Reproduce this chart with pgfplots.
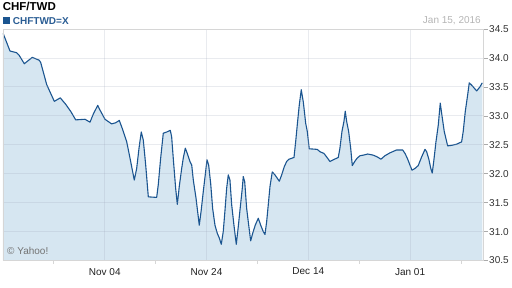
\documentclass[border=0pt]{standalone}
\usepackage{pgfplots}
\pgfplotsset{compat=1.18}
\usepackage{pgfplotstable}
\usepackage{fontspec}
\setmainfont{Liberation Sans}
\definecolor{lineblue}{HTML}{1B5590}
\definecolor{fillblue}{HTML}{D6E6F1}
\definecolor{gridc}{HTML}{9BA3B7}
\definecolor{framec}{HTML}{D6D6D6}
\definecolor{legblue}{HTML}{2A5D94}
\definecolor{datec}{HTML}{B4B4B4}
\pgfplotstableread{
d v
0.00 34.43
0.96 34.12
1.88 34.09
2.20 34.05
2.93 33.90
4.03 34.01
4.99 33.96
5.19 33.92
6.01 33.54
7.06 33.25
7.88 33.31
8.62 33.20
9.35 33.07
10.00 32.93
11.28 32.94
11.97 32.89
12.42 33.03
13.03 33.18
13.34 33.10
14.03 32.94
14.95 32.86
15.50 32.88
16.00 32.92
16.41 32.78
17.02 32.55
17.47 32.27
18.06 31.89
18.39 32.09
18.71 32.44
19.02 32.72
19.30 32.58
19.63 32.15
19.99 31.60
21.14 31.59
21.36 31.81
21.69 32.27
22.05 32.70
22.52 32.72
23.01 32.75
23.20 32.64
23.42 32.27
23.75 31.75
23.98 31.47
24.25 31.78
24.58 32.09
24.80 32.27
25.08 32.44
25.35 32.35
25.72 32.21
25.96 32.15
26.18 31.89
26.55 31.58
27.00 31.11
27.24 31.34
27.55 31.69
27.88 32.04
28.06 32.24
28.29 32.15
28.57 31.83
28.84 31.40
29.16 31.11
29.48 30.97
29.75 30.89
30.03 30.78
30.30 31.00
30.54 31.37
30.77 31.75
30.99 31.98
31.22 31.89
31.46 31.46
31.77 31.11
32.09 30.78
32.37 31.09
32.60 31.37
32.92 31.75
33.05 31.95
33.25 31.86
33.52 31.40
33.80 31.11
34.07 30.84
34.35 30.97
34.70 31.11
35.12 31.23
35.45 31.11
35.80 31.00
36.04 30.95
36.27 31.17
36.49 31.46
36.73 31.78
37.04 32.03
37.41 31.98
37.79 31.91
38.01 31.87
38.34 31.98
38.69 32.12
39.02 32.21
39.34 32.25
40.03 32.28
40.26 32.55
40.48 32.84
40.76 33.19
41.03 33.45
41.31 33.24
41.64 32.87
41.86 32.73
42.13 32.43
43.23 32.42
43.60 32.38
44.15 32.35
44.52 32.29
44.98 32.21
45.43 32.24
46.12 32.28
46.35 32.44
46.63 32.73
46.90 32.90
47.08 33.08
47.28 32.90
47.55 32.73
47.83 32.44
48.05 32.14
48.38 32.21
48.73 32.27
49.11 32.31
49.56 32.32
50.17 32.34
50.94 32.32
51.49 32.29
51.99 32.25
52.54 32.31
53.23 32.36
54.15 32.41
54.98 32.41
55.30 32.35
55.61 32.27
55.98 32.15
56.26 32.06
56.67 32.09
57.12 32.14
57.59 32.29
58.05 32.42
58.28 32.38
58.60 32.24
58.83 32.10
59.05 32.01
59.28 32.24
59.56 32.55
59.88 32.84
60.15 33.22
60.38 33.01
60.70 32.73
61.17 32.48
61.72 32.49
62.41 32.51
63.09 32.55
63.31 32.73
63.59 33.07
63.92 33.36
64.14 33.57
64.47 33.53
65.16 33.43
65.61 33.50
65.93 33.57
}\datatable
\begin{document}
\begin{tikzpicture}
\path[use as bounding box] (0pt,0pt) rectangle (512pt,288pt);
\begin{axis}[
  at={(3pt,27.5pt)}, anchor=south west,
  scale only axis, width=480.5pt, height=231.5pt,
  xmin=0, xmax=66.1, ymin=30.5, ymax=34.5,
  axis on top,
  axis line style={framec, line width=0.8pt},
  xtick={14,28,42,56},
  xticklabels={Nov 04,Nov 24,Dec 14,Jan 01},
  minor xtick={7,21,35,49,63},
  ytick={30.5,31,31.5,32,32.5,33,33.5,34,34.5},
  yticklabel pos=right,
  ytick pos=right,
  xtick pos=bottom,
  tick align=outside,
  major tick length=4pt,
  minor tick length=3.5pt,
  major x tick style={draw=none},
  minor x tick style={draw=framec, line width=0.8pt},
  major y tick style={draw=framec!80!black, line width=0.6pt},
  grid=major,
  major grid style={draw=gridc, opacity=0.22, line width=0.8pt},
  /pgf/number format/assume math mode=true,
  yticklabel style={/pgf/number format/.cd, fixed, fixed zerofill, precision=1, /tikz/.cd, font=\fontsize{10}{12}\selectfont, text=black!80, inner sep=1.5pt},
  xticklabel style={font=\fontsize{10}{12}\selectfont, text=black!87},
]
\addplot[fill=fillblue, draw=none] table[x=d,y=v] {\datatable} \closedcycle;
\addplot[lineblue, line width=1.1pt, line join=round] table[x=d,y=v] {\datatable};
\end{axis}
\node[anchor=base west, inner sep=0, font=\bfseries\fontsize{11.5}{13}\selectfont] at (2.6pt,277.3pt) {CHF/TWD};
\fill[lineblue] (2.7pt,263.7pt) rectangle (10pt,271.3pt);
\node[anchor=base west, inner sep=0, font=\bfseries\fontsize{10}{12}\selectfont, text=legblue] at (12.7pt,263.7pt) {CHFTWD=X};
\node[anchor=base east, inner sep=0, font=\fontsize{10}{12}\selectfont, text=datec] at (481pt,264pt) {Jan 15, 2016};
\node[anchor=base west, inner sep=0, font=\fontsize{10}{12}\selectfont, text=black!55] at (7pt,33pt) {© Yahoo!};
\end{tikzpicture}
\end{document}
